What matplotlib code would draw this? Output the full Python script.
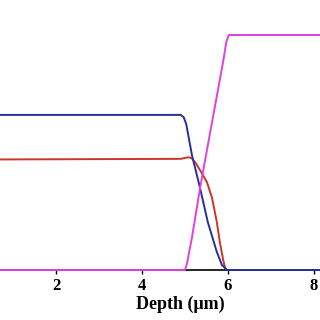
import numpy as np
import matplotlib
matplotlib.use('Agg')
import matplotlib.pyplot as plt

plt.rcParams['font.family'] = 'Liberation Serif'

# depth profiles
blue_depth = [0, 4.9, 4.97, 5.03, 5.1, 5.16, 5.35, 5.53, 5.74, 5.86, 5.98, 10]
blue_val = [66, 66, 65, 62, 55, 49, 34.9, 20.4, 7.7, 2.1, 0, 0]

red_depth = [0, 4.9, 5.08, 5.16, 5.25, 5.35, 5.51, 5.63, 5.74, 5.81, 5.88, 5.93, 5.98, 10]
red_val = [47, 47.3, 48, 47.5, 45.5, 42.5, 37.4, 30.6, 20.4, 11.9, 5.1, 0.9, 0, 0]

mag_depth = [0, 5.0, 5.05, 5.1, 5.16, 5.35, 5.53, 5.8, 5.9, 5.96, 6.02, 10]
mag_val = [0, 0, 3, 8, 13.6, 34.9, 53, 80, 90, 97, 100, 100]

xticks = [2, 4, 6, 8]

fig = plt.figure(figsize=(3.2, 3.2), dpi=100)
ax = fig.add_axes([-30 / 320, 50 / 320, 421.4 / 320, 246.75 / 320])

ax.plot(red_depth, red_val, color='#c8362a', linewidth=1.4, zorder=3, clip_on=False)
ax.plot(blue_depth, blue_val, color='#26309a', linewidth=1.4, zorder=4, clip_on=False)
ax.plot(mag_depth, mag_val, color='#e040e0', linewidth=1.4, zorder=5, clip_on=False)

ax.set_xlim(0, 9.8)
ax.set_ylim(0, 105)
ax.set_xticks(xticks)
ax.set_xticklabels([str(t) for t in xticks], fontsize=12, fontweight='bold')
ax.set_yticks([])
ax.tick_params(axis='x', direction='out', length=3, width=1, pad=3)
for s in ['left', 'top', 'right']:
    ax.spines[s].set_visible(False)
ax.spines['bottom'].set_linewidth(1.2)
ax.set_xlabel('Depth (\u03bcm)', fontsize=13, fontweight='bold', labelpad=1)

fig.savefig('out.png', dpi=100)
